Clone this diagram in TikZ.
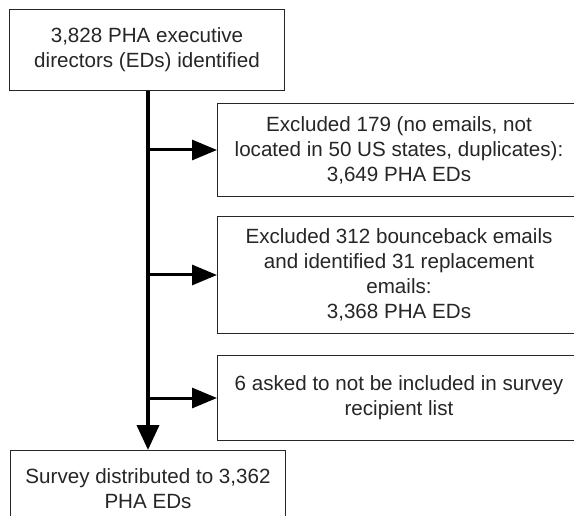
\documentclass[tikz,border=0pt]{standalone}
\usepackage{fontspec}
\setmainfont{Liberation Sans}
\usetikzlibrary{arrows.meta}
\begin{document}
\begin{tikzpicture}[x=1pt,y=-1pt,
  box/.style={draw=black!85, line width=1pt, inner sep=0pt, anchor=north west,
    align=center, text=black!85, font=\fontsize{20.6}{25}\selectfont},
  trunk/.style={line width=4pt, -{Triangle[length=25pt,width=22pt]}},
  branch/.style={line width=3pt, -{Triangle[length=25pt,width=20pt]}}]
\clip (0,0) rectangle (574,516);
\fill[white] (0,0) rectangle (574,516);

\node[box, minimum width=275pt, minimum height=81pt] (top) at (9,9)
  {3,828 PHA executive\\directors (EDs) identified};
\node[box, minimum width=363pt, minimum height=93pt] (ex1) at (217,103)
  {Excluded 179 (no emails, not\\located in 50 US states, duplicates):\\3,649 PHA EDs};
\node[box, minimum width=363pt, minimum height=117pt] (ex2) at (217,216)
  {Excluded 312 bounceback emails\\and identified 31 replacement\\emails:\\3,368 PHA EDs};
\node[box, minimum width=363pt, minimum height=85pt] (ex3) at (217,355)
  {6 asked to not be included in survey\\recipient list};
\node[box, minimum width=275pt, minimum height=76pt] (final) at (10,450)
  {Survey distributed to 3,362\\PHA EDs};

\coordinate (axis) at (148,0);
\draw[trunk] (top.south -| axis) -- (final.north -| axis);
\draw[branch] (ex1.west -| axis) -- (ex1.west);
\draw[branch] (ex2.west -| axis) -- (ex2.west);
\draw[branch] (ex3.west -| axis) -- (ex3.west);
\end{tikzpicture}
\end{document}
